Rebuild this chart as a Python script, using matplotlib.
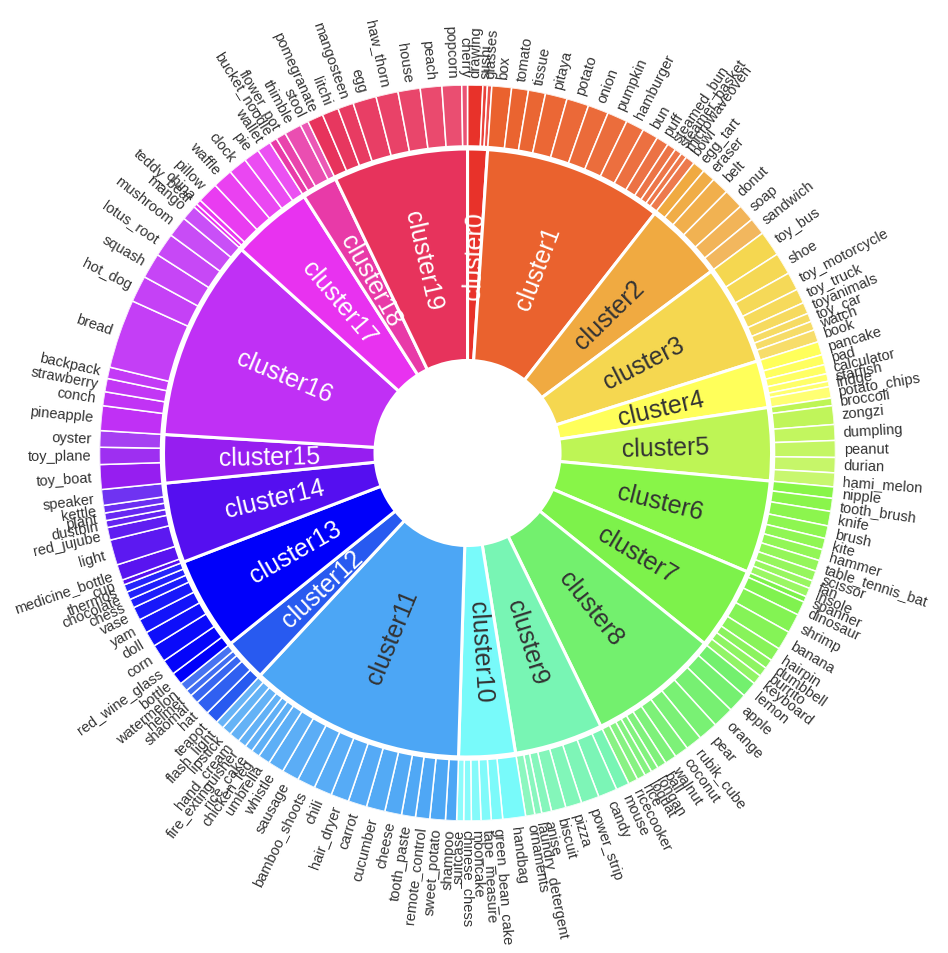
import numpy as np
import matplotlib.pyplot as plt
import matplotlib.colors as mcolors

plt.rcParams['font.family'] = ['Liberation Sans', 'DejaVu Sans']

cluster_names = [f"cluster{i}" for i in range(20)]
cluster_colors = ["#e8322a", "#ea622e", "#f0aa41", "#f5d750", "#ffff5a",
                  "#bef555", "#88f548", "#7df24b", "#73f06e", "#78f5b4",
                  "#78fafa", "#4ca6f5", "#285af0", "#0000fa", "#550ff0",
                  "#961ef0", "#c030f5", "#e832f0", "#e83aa8", "#e7335c"]
light_text = [0, 1, 12, 13, 14, 15, 16, 17, 18, 19]

item_names = [
    ["drawing", "sushi", "glasses"],
    ["box", "tomato", "tissue", "pitaya", "potato", "onion", "pumpkin", "hamburger",
     "bun", "puff", "steamed_bun", "steamer_basket", "microwaveoven", "bowl"],
    ["egg_tart", "eraser", "belt", "donut", "soap", "sandwich"],
    ["toy_bus", "shoe", "toy_motorcycle", "toy_truck", "toyanimals", "toy_car", "watch", "book"],
    ["pancake", "pad", "calculator", "starfish", "fridge", "potato_chips"],
    ["broccoli", "zongzi", "dumpling", "peanut", "durian", "hami_melon"],
    ["nipple", "tooth_brush", "knife", "brush", "kite", "hammer", "table_tennis_bat",
     "scissor", "fan", "insole"],
    ["spanner", "dinosaur", "shrimp", "banana", "hairpin", "dumbbell", "burrito", "keyboard"],
    ["lemon", "apple", "orange", "pear", "rubik_cube", "coconut", "walnut", "ball",
     "longan", "loquat", "rice", "ricecooker"],
    ["mouse", "candy", "power_strip", "pizza", "biscuit", "anise", "laundry_detergent", "ornaments"],
    ["handbag", "green_bean_cake", "tape_measure", "mooncake", "chinese_chess", "suitcase"],
    ["shampoo", "sweet_potato", "remote_control", "tooth_paste", "cheese", "cucumber",
     "carrot", "hair_dryer", "chili", "bamboo_shoots", "sausage", "whistle", "umbrella",
     "chicken_leg", "rice_cake", "fire_extinguisher", "hand_cream", "lipstick", "flash_light"],
    ["teapot", "hat", "shaomai", "helmet", "watermelon"],
    ["bottle", "red_wine_glass", "corn", "doll", "yam", "vase", "chess", "chocolate", "thermos"],
    ["cup", "medicine_bottle", "light", "red_jujube", "dustbin", "plant", "kettle", "speaker"],
    ["toy_boat", "toy_plane", "oyster"],
    ["pineapple", "conch", "strawberry", "backpack", "bread", "hot_dog", "squash",
     "lotus_root", "mushroom", "mango"],
    ["teddy_bear", "china", "pillow", "waffle", "clock", "pie", "wallet"],
    ["bucket_noodle", "flower_pot", "thimble", "stool"],
    ["pomegranate", "litchi", "mangosteen", "egg", "haw_thorn", "house", "peach",
     "popcorn", "cherry"],
]
item_sizes = [
    [2.4, 0.7, 0.7],
    [3.1, 2.65, 2.7, 3.45, 3.5, 3.25, 3.2, 2.9, 2.5, 1.95, 1.4, 1.15, 0.95, 1.5],
    [1.95, 2.05, 2.75, 3.15, 2.7, 2.7],
    [4.0, 3.45, 2.85, 2.3, 1.8, 1.35, 1.4, 1.95],
    [2.1, 1.6, 1.45, 1.2, 0.85, 1.8],
    [1.2, 2.95, 2.5, 2.65, 2.4, 2.2],
    [1.8, 2.05, 2.3, 2.0, 1.8, 1.75, 1.75, 1.6, 1.25, 1.4],
    [0.9, 2.2, 3.05, 3.0, 2.15, 1.5, 1.5, 1.5],
    [2.45, 3.05, 3.35, 3.1, 2.6, 2.2, 1.85, 1.45, 1.15, 1.15, 1.35, 1.5],
    [2.1, 3.0, 2.85, 2.55, 2.3, 1.55, 1.1, 1.45],
    [3.6, 1.8, 1.6, 1.5, 1.2, 1.1],
    [1.75, 2.45, 2.25, 2.2, 2.65, 2.95, 2.95, 2.85, 2.85, 2.85, 2.7, 2.5, 1.9,
     1.35, 1.25, 1.35, 1.7, 1.5, 1.3],
    [2.05, 2.25, 1.45, 1.05, 1.4],
    [1.95, 2.45, 2.8, 2.4, 2.25, 2.1, 1.4, 1.25, 1.2],
    [0.8, 2.5, 4.0, 2.0, 1.1, 1.2, 1.2, 2.5],
    [3.9, 2.7, 2.6],
    [3.9, 2.2, 2.1, 1.8, 10.9, 4.2, 4.0, 3.7, 3.3, 2.4],
    [0.6, 0.8, 3.3, 3.15, 2.95, 2.5, 2.2],
    [1.2, 1.6, 2.7, 1.3],
    [2.5, 2.6, 2.5, 3.7, 3.5, 3.5, 3.4, 3.1, 0.9],
]

# ring radii in pixels (axes radius = 368 px)
r_hole, r_inner, r_outer0, r_outer1, r_text = 92.5, 304, 307, 368, 376


def radial_rotation(deg):
    # deg: clockwise from 12 o'clock
    if deg <= 180:
        return 90 - deg, 'left'
    return 270 - deg, 'right'


def lighten(color, t):
    c = np.array(mcolors.to_rgb(color))
    return tuple(c + (1 - c) * t)


fig = plt.figure(figsize=(9.48, 9.54), dpi=100)
ax = fig.add_axes([0.10496, 0.13836, 0.7764, 0.7715], projection='polar')
ax.set_theta_zero_location('N')
ax.set_theta_direction(-1)
ax.set_ylim(0, r_outer1)
ax.set_axis_off()

total = sum(sum(s) for s in item_sizes)
scale = 2 * np.pi / total

start = 0.0
for ci, (names, sizes) in enumerate(zip(item_names, item_sizes)):
    csize = sum(sizes)
    mid = start + csize / 2
    ax.bar(mid * scale, r_inner - r_hole, width=csize * scale, bottom=r_hole,
           color=cluster_colors[ci], edgecolor='white', linewidth=2.2, align='center')
    rot, _ = radial_rotation(np.degrees(mid * scale))
    ax.text(mid * scale, (r_hole + r_inner) / 2, cluster_names[ci], rotation=rot,
            rotation_mode='anchor', ha='center', va='center', fontsize=18,
            color='white' if ci in light_text else '#333333')

    pos = start
    n = len(sizes)
    for k, (name, s) in enumerate(zip(names, sizes)):
        m = pos + s / 2
        col = lighten(cluster_colors[ci], 0.15 * k / max(n - 1, 1))
        ax.bar(m * scale, r_outer1 - r_outer0, width=s * scale, bottom=r_outer0,
               color=col, edgecolor='white', linewidth=1.1, align='center')
        rot, ha = radial_rotation(np.degrees(m * scale))
        ax.text(m * scale, r_text, name, rotation=rot, rotation_mode='anchor',
                ha=ha, va='center', fontsize=10.5, color='#333333')
        pos += s
    start += csize

fig.savefig("out.png", dpi=100)
